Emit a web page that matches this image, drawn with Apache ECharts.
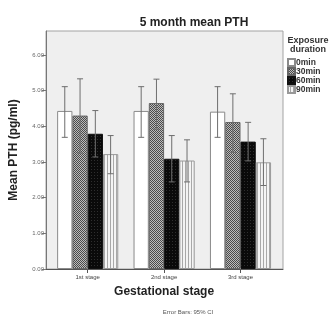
<!DOCTYPE html>
<html>
<head>
<meta charset="utf-8">
<script src="https://cdn.jsdelivr.net/npm/echarts@6/dist/echarts.min.js"></script>
<style>
  html, body { margin: 0; padding: 0; background: #fff; }
  #chart { width: 331px; height: 316px; }
</style>
</head>
<body>
<div id="chart"></div>
<script>
// data
var stages = ['1st stage', '2nd stage', '3rd stage'];
var durations = ['0min', '30min', '60min', '90min'];

var mean0 = [4.43, 4.43, 4.41];
var mean30 = [4.30, 4.65, 4.12];
var mean60 = [3.79, 3.09, 3.57];
var mean90 = [3.22, 3.04, 2.99];

// 95% CI
var low0 = [3.69, 3.69, 3.69];
var high0 = [5.11, 5.11, 5.11];
var low30 = [3.25, 3.92, 3.27];
var high30 = [5.33, 5.32, 4.91];
var low60 = [3.14, 2.44, 3.03];
var high60 = [4.44, 3.74, 4.11];
var low90 = [2.67, 2.44, 2.34];
var high90 = [3.74, 3.62, 3.65];

var yTicks = [0, 1, 2, 3, 4, 5, 6];

var means = [mean0, mean30, mean60, mean90];
var lows = [low0, low30, low60, low90];
var highs = [high0, high30, high60, high90];

// fill patterns, SPSS style
function pattern(w, h, draw) {
  var c = document.createElement('canvas');
  c.width = w; c.height = h;
  draw(c.getContext('2d'));
  return { image: c, repeat: 'repeat' };
}
var fills = [
  '#ffffff',
  pattern(2, 2, function (g) {
    g.fillStyle = '#bdbdbd'; g.fillRect(0, 0, 2, 2);
    g.fillStyle = '#4a4a4a'; g.fillRect(0, 0, 1, 1); g.fillRect(1, 1, 1, 1);
  }),
  pattern(3, 3, function (g) {
    g.fillStyle = '#0a0a0a'; g.fillRect(0, 0, 3, 3);
    g.fillStyle = '#2e2e2e'; g.fillRect(1, 1, 1, 1);
  }),
  pattern(3, 1, function (g) {
    g.fillStyle = '#f4f4f4'; g.fillRect(0, 0, 3, 1);
    g.fillStyle = '#a8a8a8'; g.fillRect(2, 0, 1, 1);
  })
];
var borders = ['#8a8a8a', '#666', '#111', '#999'];

var yMax = 6.67;
var catGap = 0.2;

var series = [];
durations.forEach(function (d, i) {
  series.push({
    name: d,
    type: 'bar',
    xAxisIndex: 1,
    yAxisIndex: 1,
    data: means[i],
    barGap: '0%',
    barCategoryGap: '20%',
    itemStyle: { color: fills[i], borderColor: borders[i], borderWidth: 1 }
  });
});
durations.forEach(function (d, i) {
  var errData = stages.map(function (s, k) { return [k, lows[i][k], highs[i][k]]; });
  series.push({
    name: 'err ' + d,
    type: 'custom',
    xAxisIndex: 1,
    yAxisIndex: 1,
    z: 10,
    data: errData,
    renderItem: function (params, api) {
      var k = api.value(0);
      var band = api.size([1, 0])[0];
      var bw = band * (1 - catGap) / 4;
      var lo = api.coord([k, api.value(1)]);
      var hi = api.coord([k, api.value(2)]);
      var x = lo[0] + (i - 1.5) * bw;
      var cap = 3;
      var st = { stroke: '#6e6e6e', lineWidth: 1 };
      return {
        type: 'group',
        children: [
          { type: 'line', shape: { x1: x, y1: lo[1], x2: x, y2: hi[1] }, style: st },
          { type: 'line', shape: { x1: x - cap, y1: lo[1], x2: x + cap, y2: lo[1] }, style: st },
          { type: 'line', shape: { x1: x - cap, y1: hi[1], x2: x + cap, y2: hi[1] }, style: st }
        ]
      };
    }
  });
});

var chart = echarts.init(document.getElementById('chart'), null, { renderer: 'canvas' });

var option = {
  animation: false,
  backgroundColor: '#ffffff',
  title: {
    text: '5 month mean PTH',
    left: 189,
    textAlign: 'center',
    top: 12,
    textStyle: { fontFamily: 'Liberation Sans', fontSize: 12, fontWeight: 'bold', color: '#222' }
  },
  legend: {
    data: durations,
    orient: 'vertical',
    left: 287,
    top: 58,
    padding: 0,
    itemWidth: 7,
    itemHeight: 7,
    itemGap: 0,
    icon: 'rect',
    selectedMode: false,
    textStyle: { fontFamily: 'Liberation Sans', fontSize: 8.5, fontWeight: 'bold', color: '#333', lineHeight: 8.7, padding: [0, 0, 0, -4] }
  },
  graphic: [
    {
      type: 'text',
      style: {
        x: 308, y: 36, text: 'Exposure\nduration', align: 'center',
        font: 'bold 9px "Liberation Sans"', fill: '#333', lineHeight: 9
      }
    },
    {
      type: 'text',
      style: {
        x: 188, y: 309, text: 'Error Bars: 95% CI', align: 'center',
        font: '6px "Liberation Sans"', fill: '#555'
      }
    }
  ],
  grid: [
    { left: 46, right: 48, top: 31, bottom: 47, show: true, backgroundColor: '#efefef', borderColor: '#a3a3a3', borderWidth: 1 },
    { left: 49.5, right: 52.3, top: 31, bottom: 47 }
  ],
  xAxis: [
    {
      type: 'value', gridIndex: 0, min: 0, max: 1,
      axisLine: { show: true, onZero: false, lineStyle: { color: '#555' } },
      axisTick: { show: false }, axisLabel: { show: false }, splitLine: { show: false }
    },
    {
      type: 'category', gridIndex: 1, data: stages,
      axisLine: { show: false },
      axisTick: { show: true, alignWithLabel: true, length: 4, lineStyle: { color: '#555' } },
      axisLabel: { fontFamily: 'Liberation Sans', fontSize: 6, color: '#444', margin: 5 },
      name: 'Gestational stage',
      nameLocation: 'middle',
      nameGap: 17,
      nameTextStyle: { fontFamily: 'Liberation Sans', fontSize: 12, fontWeight: 'bold', color: '#222' }
    }
  ],
  yAxis: [
    {
      type: 'value', gridIndex: 0, min: 0, max: yMax, interval: 1,
      axisLine: { show: true, lineStyle: { color: '#777' } },
      axisTick: { show: true, length: 4, lineStyle: { color: '#777' } },
      axisLabel: {
        fontFamily: 'Liberation Sans', fontSize: 6, color: '#666', margin: 2,
        showMaxLabel: false,
        formatter: function (v) { return yTicks.indexOf(v) >= 0 ? v.toFixed(2) : ''; }
      },
      splitLine: { show: false },
      name: 'Mean PTH (pg/ml)',
      nameLocation: 'middle',
      nameGap: 26,
      nameTextStyle: { fontFamily: 'Liberation Sans', fontSize: 12, fontWeight: 'bold', color: '#222' }
    },
    {
      type: 'value', gridIndex: 1, min: 0, max: yMax,
      axisLine: { show: false }, axisTick: { show: false }, axisLabel: { show: false }, splitLine: { show: false }
    }
  ],
  series: series
};

chart.setOption(option);
</script>
</body>
</html>
